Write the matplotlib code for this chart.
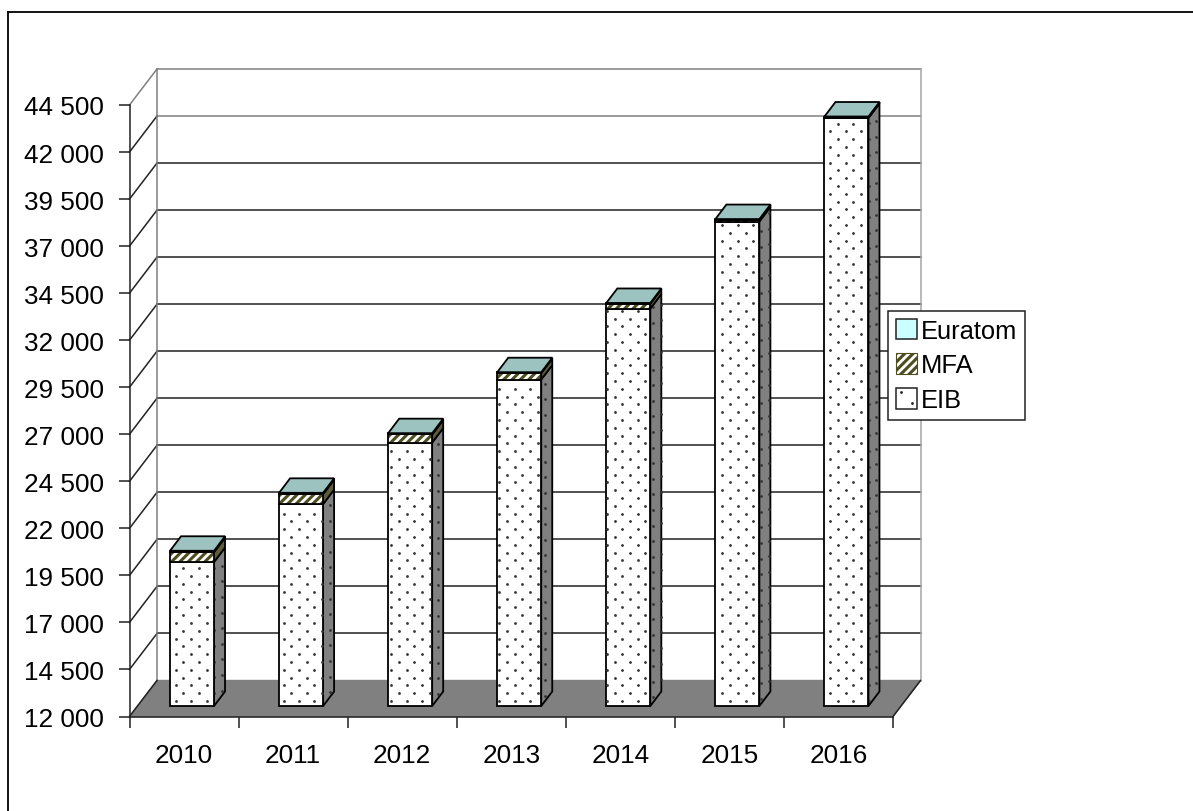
import numpy as np
import matplotlib
matplotlib.use("Agg")
import matplotlib.pyplot as plt
from matplotlib.lines import Line2D
from matplotlib.patches import Patch, Polygon, Rectangle

plt.rcParams['font.family'] = ['Liberation Sans', 'DejaVu Sans']
plt.rcParams['hatch.linewidth'] = 2.2

years = ['2010', '2011', '2012', '2013', '2014', '2015', '2016']
eib = [19650, 22730, 26000, 29350, 33120, 37750, 43250]
mfa = [530, 530, 430, 340, 260, 90, 50]
euratom = [70, 70, 70, 50, 40, 40, 30]
yticks = [12000, 14500, 17000, 19500, 22000, 24500, 27000, 29500, 32000, 34500, 37000, 39500, 42000, 44500]

W, H = 1193, 812
fig = plt.figure(figsize=(W / 100, H / 100), dpi=100, facecolor='white')
ax = fig.add_axes([129.5 / W, 1 - 717.5 / H, 763.5 / W, 611.5 / H])
ax.set_xlim(0, 7)
ax.set_ylim(12000, 44500)
ax.patch.set_visible(False)

# size of one pixel in data units
px = 7 / 763.5
py = 32500 / 611.5
depth_x = 27.5 * px
depth_y = 36 * py
bar_dx = 11 * px
bar_dy = 14.5 * py
bar_w = 44 * px
off_x = 8 * px
off_y = 10.5 * py


def poly(pts, **kw):
    p = Polygon(pts, closed=True, clip_on=False, **kw)
    ax.add_patch(p)
    return p


def line(xs, ys, col, lw=1.1, z=1):
    ax.plot(xs, ys, color=col, lw=lw, zorder=z, clip_on=False)


# floor and walls
poly([(0, 12000), (7, 12000), (7 + depth_x, 12000 + depth_y), (depth_x, 12000 + depth_y)],
     fc='#808080', ec='#808080', lw=1, zorder=1)
for t in yticks[1:]:
    grid_col = '#808080' if t >= 42000 else '#222222'
    diag_col = '#808080' if t == 44500 else '#222222'
    line([depth_x, 7 + depth_x], [t + depth_y, t + depth_y], grid_col)
    line([0, depth_x], [t, t + depth_y], diag_col)
line([depth_x, depth_x], [12000 + depth_y, 44500 + depth_y], '#808080')
line([7 + depth_x, 7 + depth_x], [12000 + depth_y, 44500 + depth_y], '#a6a6a6')
line([0, depth_x], [12000, 12000 + depth_y], '#222222', z=2)
line([7, 7 + depth_x], [12000, 12000 + depth_y], '#222222', z=2)


def dots(x0, x1, y0, y1, z, skew=0.0):
    # staggered dot pattern of the bar fill
    xs, ys = [], []
    for r, yy in enumerate(np.arange(12000, 46000, 7.8 * py)):
        for xx in np.arange(0, 9, 15.4 * px):
            xv = xx + (r % 2) * 7.7 * px
            if not x0 < xv < x1:
                continue
            lift = (xv - x0) / (x1 - x0) * skew
            if y0 + 4 * py < yy < y1 - 2 * py:
                xs.append(xv)
                ys.append(yy + lift)
    ax.scatter(xs, ys, s=4, color='#333333', lw=0, zorder=z, clip_on=False)


edge = dict(ec='black', lw=1.3, joinstyle='miter')
for i in range(len(years)):
    z = 3 + i
    # the bars stand in the middle of the floor, so shift them up and right
    x0 = i + (1 - 44 * px) / 2 + off_x
    x1 = x0 + bar_w
    a = 12000 + off_y
    b = eib[i] + off_y
    c = b + mfa[i]
    d = c + euratom[i]
    # right side
    poly([(x1, a), (x1 + bar_dx, a + bar_dy), (x1 + bar_dx, b + bar_dy), (x1, b)],
         fc='#808080', zorder=z, **edge)
    dots(x1, x1 + bar_dx, a, b, z, skew=bar_dy)
    poly([(x1, b), (x1 + bar_dx, b + bar_dy), (x1 + bar_dx, c + bar_dy), (x1, c)],
         fc='#5c5c3a', zorder=z, **edge)
    poly([(x1, c), (x1 + bar_dx, c + bar_dy), (x1 + bar_dx, d + bar_dy), (x1, d)],
         fc='#6b8583', zorder=z, **edge)
    # front faces
    ax.add_patch(Rectangle((x0, a), bar_w, b - a, fc='white', zorder=z, clip_on=False, **edge))
    dots(x0, x1, a, b, z)
    ax.add_patch(Rectangle((x0, b), bar_w, c - b, fc='white', hatch='////', ec='#4d4d1f', lw=0, zorder=z, clip_on=False))
    ax.add_patch(Rectangle((x0, b), bar_w, c - b, fc='none', zorder=z, clip_on=False, **edge))
    ax.add_patch(Rectangle((x0, c), bar_w, d - c, fc='#9cc3c0', zorder=z, clip_on=False, **edge))
    # top
    poly([(x0, d), (x1, d), (x1 + bar_dx, d + bar_dy), (x0 + bar_dx, d + bar_dy)],
         fc='#9cc3c0', zorder=z, **edge)

# axes, ticks and labels
for s in ['top', 'right']:
    ax.spines[s].set_visible(False)
for s in ['left', 'bottom']:
    ax.spines[s].set_linewidth(1.1)
    ax.spines[s].set_color('#222222')
    ax.spines[s].set_zorder(2)
ax.set_yticks(yticks)
ax.set_yticklabels([f'{t:,}'.replace(',', ' ') for t in yticks])
ax.set_xticks(range(8))
ax.set_xticklabels([])
ax.set_xticks(np.arange(len(years)) + 0.5, minor=True)
ax.set_xticklabels(years, minor=True)
ax.tick_params(axis='x', which='major', length=8, width=1.1, color='#222222')
ax.tick_params(axis='x', which='minor', length=0, labelsize=18.8, pad=19)
ax.tick_params(axis='y', length=8, width=1.1, color='#222222', labelsize=18.8, pad=10.5)

# outer frame, only left and top show
fig.add_artist(Line2D([8 / W, 8 / W], [1 - 13 / H, 0], color='black', lw=1.3))
fig.add_artist(Line2D([8 / W, 1], [1 - 13 / H, 1 - 13 / H], color='black', lw=1.3))


class DotHandler:
    # legend swatch for EIB: white square with two dots
    def legend_artist(self, legend, handle, fontsize, box):
        w, h = box.width, box.height
        box.add_artist(Rectangle((box.xdescent, -box.ydescent), w, h, fc='white', ec='#222222', lw=1.1,
                                 transform=box.get_transform()))
        box.add_artist(Line2D([w * 0.25, w * 0.75], [h * 0.75, h * 0.2], ls='none', marker='o', ms=2, color='#222222',
                              mew=0, transform=box.get_transform()))
        return handle


eib_handle = Patch(fc='white', label='EIB')
handles = [
    Patch(fc='#ccffff', ec='#222222', lw=1.1, label='Euratom'),
    Patch(fc='white', ec='#4d4d1f', hatch='////', lw=0.8, label='MFA'),
    eib_handle,
]
leg = fig.legend(handles=handles, loc='upper left', bbox_to_anchor=(888 / W, 1 - 312 / H), borderaxespad=0,
                 fontsize=18.4, frameon=True, fancybox=False, edgecolor='#222222', framealpha=1,
                 handlelength=0.85, handleheight=0.85, handletextpad=0.14, labelspacing=0.42, borderpad=0.3,
                 handler_map={eib_handle: DotHandler()})
leg.get_frame().set_linewidth(1.1)

fig.savefig('out.png', dpi=100, facecolor='white')
